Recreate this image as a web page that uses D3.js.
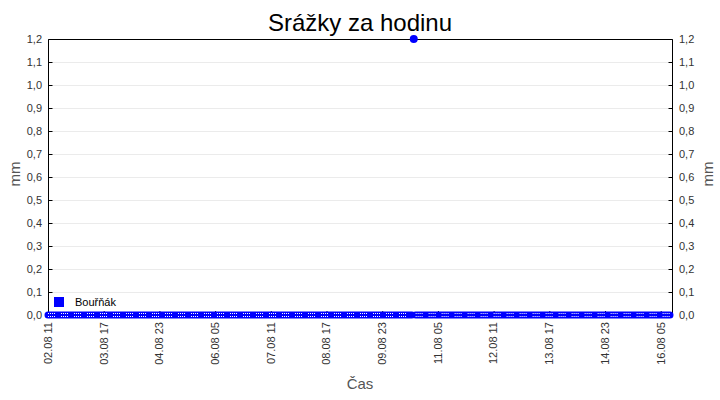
<!DOCTYPE html>
<html>
<head>
<meta charset="utf-8">
<script src="https://cdn.jsdelivr.net/npm/d3@7"></script>
<style>
	body { margin: 0; background: #fff; }
	svg { font-family: 'Liberation Sans', Arial, sans-serif; }
</style>
</head>
<body>
<div id="chart"></div>
<script>
// Hourly rainfall, station Bouřňák, starting 02.08 11:00 (one row = 24 hours)
const startTime = '2024-08-02T11:00';
const rain = [
	0, 0, 0, 0, 0, 0, 0, 0, 0, 0, 0, 0, 0, 0, 0, 0, 0, 0, 0, 0, 0, 0, 0, 0,
	0, 0, 0, 0, 0, 0, 0, 0, 0, 0, 0, 0, 0, 0, 0, 0, 0, 0, 0, 0, 0, 0, 0, 0,
	0, 0, 0, 0, 0, 0, 0, 0, 0, 0, 0, 0, 0, 0, 0, 0, 0, 0, 0, 0, 0, 0, 0, 0,
	0, 0, 0, 0, 0, 0, 0, 0, 0, 0, 0, 0, 0, 0, 0, 0, 0, 0, 0, 0, 0, 0, 0, 0,
	0, 0, 0, 0, 0, 0, 0, 0, 0, 0, 0, 0, 0, 0, 0, 0, 0, 0, 0, 0, 0, 0, 0, 0,
	0, 0, 0, 0, 0, 0, 0, 0, 0, 0, 0, 0, 0, 0, 0, 0, 0, 0, 0, 0, 0, 0, 0, 0,
	0, 0, 0, 0, 0, 0, 0, 0, 0, 0, 0, 0, 0, 0, 0, 0, 0, 0, 0, 0, 0, 0, 0, 0,
	0, 0, 0, 0, 0, 0, 0, 0, 0, 0, 0, 0, 0, 0, 0, 0, 0, 0, 0, 0, 0, 0, 0, 0,
	0, 0, 0, 0, 0, 1.2, 0, 0, 0, 0, 0, 0, 0, 0, 0, 0, 0, 0, 0, 0, 0, 0, 0, 0,
	0, 0, 0, 0, 0, 0, 0, 0, 0, 0, 0, 0, 0, 0, 0, 0, 0, 0, 0, 0, 0, 0, 0, 0,
	0, 0, 0, 0, 0, 0, 0, 0, 0, 0, 0, 0, 0, 0, 0, 0, 0, 0, 0, 0, 0, 0, 0, 0,
	0, 0, 0, 0, 0, 0, 0, 0, 0, 0, 0, 0, 0, 0, 0, 0, 0, 0, 0, 0, 0, 0, 0, 0,
	0, 0, 0, 0, 0, 0, 0, 0, 0, 0, 0, 0, 0, 0, 0, 0, 0, 0, 0, 0, 0, 0, 0, 0,
	0, 0, 0, 0, 0, 0, 0, 0, 0, 0, 0, 0, 0, 0, 0, 0, 0, 0, 0, 0, 0, 0, 0, 0
];
const yTicks = [0, 0.1, 0.2, 0.3, 0.4, 0.5, 0.6, 0.7, 0.8, 0.9, 1.0, 1.1, 1.2];
const xTickEvery = 30; // hours between time labels
const seriesName = 'Bouřňák';

const width = 720;
const height = 400;
const margin = { top: 39, right: 48, bottom: 85, left: 48 };

const t0 = d3.isoParse(startTime + ':00');
const data = rain.map((v, i) => ({ t: d3.timeHour.offset(t0, i), v }));

const svg = d3.select('#chart')
	.append('svg')
	.attr('width', width)
	.attr('height', height);

const x = d3.scaleTime()
	.domain(d3.extent(data, (d) => d.t))
	.range([margin.left, width - margin.right - 2]);

const y = d3.scaleLinear()
	.domain([0, 1.2])
	.range([height - margin.bottom, margin.top]);

// horizontal grid
svg.append('g')
	.selectAll('line')
	.data(yTicks.slice(1, -1))
	.enter()
	.append('line')
	.attr('x1', margin.left)
	.attr('x2', width - margin.right)
	.attr('y1', (d) => Math.round(y(d)) + 0.5)
	.attr('y2', (d) => Math.round(y(d)) + 0.5)
	.attr('stroke', '#ebebeb');

// frame: top, left, right
svg.append('path')
	.attr('d', `M${margin.left + 0.5},${height - margin.bottom}V${margin.top + 0.5}H${width - margin.right + 0.5}V${height - margin.bottom}`)
	.attr('fill', 'none')
	.attr('stroke', '#000');

const fmt = (d) => d3.format('.1f')(d).replace('.', ',');

// left axis
svg.append('g')
	.attr('transform', `translate(${margin.left + 0.5},0)`)
	.call(d3.axisRight(y).tickValues(yTicks).tickSize(4).tickFormat(''))
	.call((g) => g.select('.domain').remove());
svg.append('g')
	.selectAll('text')
	.data(yTicks)
	.enter()
	.append('text')
	.attr('x', margin.left - 6)
	.attr('y', (d) => y(d))
	.attr('dy', '0.35em')
	.attr('text-anchor', 'end')
	.attr('font-size', 11)
	.attr('fill', '#333')
	.text(fmt);

// right axis
svg.append('g')
	.attr('transform', `translate(${width - margin.right + 0.5},0)`)
	.call(d3.axisLeft(y).tickValues(yTicks).tickSize(4).tickFormat(''))
	.call((g) => g.select('.domain').remove());
svg.append('g')
	.selectAll('text')
	.data(yTicks)
	.enter()
	.append('text')
	.attr('x', width - margin.right + 7)
	.attr('y', (d) => y(d))
	.attr('dy', '0.35em')
	.attr('text-anchor', 'start')
	.attr('font-size', 11)
	.attr('fill', '#333')
	.text(fmt);

// bottom axis (ticks inward, labels rotated)
const xTicks = data.filter((d, i) => i % xTickEvery === 0).map((d) => d.t);
svg.append('g')
	.attr('transform', `translate(0,${height - margin.bottom})`)
	.call(d3.axisTop(x).tickValues(xTicks).tickSize(4).tickFormat(''))
	.call((g) => g.select('.domain').remove());
svg.append('g')
	.selectAll('text')
	.data(xTicks)
	.enter()
	.append('text')
	.attr('transform', (d) => `translate(${x(d)},${height - margin.bottom + 7}) rotate(-90)`)
	.attr('dy', '0.35em')
	.attr('text-anchor', 'end')
	.attr('font-size', 11)
	.attr('fill', '#333')
	.text(d3.timeFormat('%d.%m %H'));

// series line: broken where the value jumps
const line = d3.line()
	.defined((d) => d.v === 0)
	.x((d) => x(d.t))
	.y((d) => y(d.v));

svg.append('path')
	.datum(data)
	.attr('d', line)
	.attr('fill', 'none')
	.attr('stroke', '#0000ff')
	.attr('stroke-width', 7)
	.attr('stroke-linecap', 'round');

// white speckles inside the band
[-1.5, 1.5].forEach((off) => {
	svg.append('path')
		.datum(data)
		.attr('d', line)
		.attr('transform', `translate(0,${off})`)
		.attr('fill', 'none')
		.attr('stroke', '#fff')
		.attr('stroke-width', 1)
		.attr('stroke-dasharray', '1,1,1,1,1,1,1,6');
});

// markers for non-zero points
svg.append('g')
	.selectAll('circle')
	.data(data.filter((d) => d.v > 0))
	.enter()
	.append('circle')
	.attr('cx', (d) => x(d.t))
	.attr('cy', (d) => y(d.v))
	.attr('r', 4)
	.attr('fill', '#0000ff');

// legend
svg.append('rect')
	.attr('x', 54)
	.attr('y', 297)
	.attr('width', 10)
	.attr('height', 10)
	.attr('fill', '#0000ff');
svg.append('text')
	.attr('x', 75)
	.attr('y', 306)
	.attr('font-size', 11)
	.attr('fill', '#000')
	.text(seriesName);

// axis titles
svg.append('text')
	.attr('transform', `translate(20,174) rotate(-90)`)
	.attr('text-anchor', 'middle')
	.attr('font-size', 15)
	.attr('fill', '#555')
	.text('mm');
svg.append('text')
	.attr('transform', `translate(713,174) rotate(-90)`)
	.attr('text-anchor', 'middle')
	.attr('font-size', 15)
	.attr('fill', '#555')
	.text('mm');
svg.append('text')
	.attr('x', 360)
	.attr('y', 389)
	.attr('text-anchor', 'middle')
	.attr('font-size', 15)
	.attr('fill', '#555')
	.text('Čas');

// title
svg.append('text')
	.attr('x', 360)
	.attr('y', 31)
	.attr('text-anchor', 'middle')
	.attr('font-size', 24)
	.attr('fill', '#000')
	.text('Srážky za hodinu');
</script>
</body>
</html>
